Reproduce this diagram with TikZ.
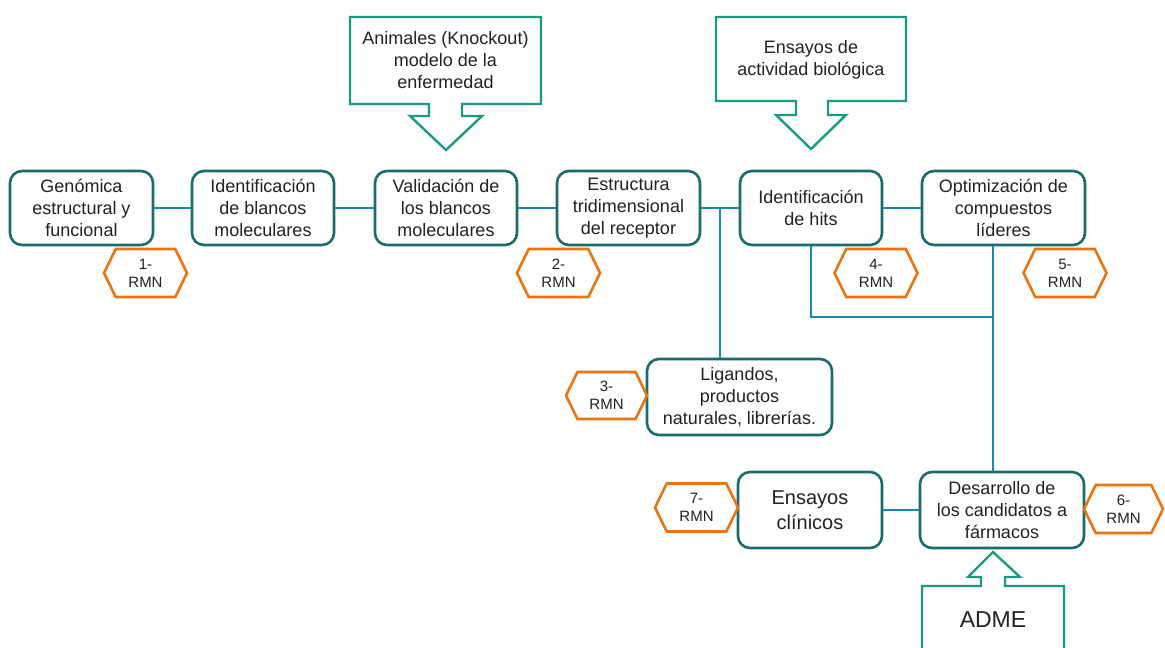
\documentclass[tikz,border=0pt]{standalone}
\usepackage{fontspec}
\setmainfont{Liberation Sans}
\usetikzlibrary{shapes.symbols}
\definecolor{boxc}{HTML}{1A6B6B}
\definecolor{linec}{HTML}{1A8AAA}
\definecolor{callc}{HTML}{1A9A80}
\definecolor{orc}{HTML}{E87511}
\definecolor{txtc}{HTML}{222222}
\tikzset{
  mainbox/.style={draw=boxc, line width=2.6pt, rounded corners=12pt, fill=white,
    minimum height=74pt, align=center, inner sep=2pt, text=txtc,
    font=\fontsize{18}{22}\selectfont},
  hexa/.style={draw=orc, line width=2.6pt, shape=signal, signal to=west and east,
    signal pointer angle=128, minimum width=83pt, minimum height=48pt, inner sep=1pt,
    align=center, text=txtc, font=\fontsize{15}{18}\selectfont},
  conn/.style={draw=linec, line width=2.4pt},
  callout/.style={draw=callc, line width=2.4pt, line join=miter},
  calltext/.style={align=center, text=txtc, font=\fontsize{18}{22}\selectfont}
}
\begin{document}
\begin{tikzpicture}[x=1pt, y=-1pt]
\useasboundingbox (0,0) rectangle (1165,648);
\clip (0,0) rectangle (1165,648);
\fill[white] (0,0) rectangle (1165,648);

% connectors (drawn first)
\coordinate (j1) at (720,208);
\coordinate (v) at (993,317);

% main boxes
\node[mainbox, minimum width=143pt] (b1) at (81.5,208) {Genómica\\estructural y\\funcional};
\node[mainbox, minimum width=142pt] (b2) at (263,208) {Identificación\\de blancos\\moleculares};
\node[mainbox, minimum width=142pt] (b3) at (446,208) {Validación de\\los blancos\\moleculares};
\node[mainbox, minimum width=143pt] (b4) at (628.5,208) {Estructura\\tridimensional\\del receptor};
\node[mainbox, minimum width=142pt] (b5) at (811,208) {Identificación\\de hits};
\node[mainbox, minimum width=163pt] (b6) at (1003.5,208) {Optimización de\\compuestos\\líderes};
\node[mainbox, minimum width=185pt, minimum height=76pt] (lig) at (739.5,397) {Ligandos,\\productos\\naturales, librerías.};
\node[mainbox, minimum width=144pt, minimum height=76pt, font=\fontsize{20}{25}\selectfont] (ens) at (810,510) {Ensayos\\clínicos};
\node[mainbox, minimum width=164pt, minimum height=76pt] (dev) at (1002,510) {Desarrollo de\\los candidatos a\\fármacos};

% connectors
\draw[conn] (b1.east) -- (b2.west);
\draw[conn] (b2.east) -- (b3.west);
\draw[conn] (b3.east) -- (b4.west);
\draw[conn] (b4.east) -- (b5.west);
\draw[conn] (b5.east) -- (b6.west);
\draw[conn] (j1) -- (j1 |- lig.north);
\draw[conn] (b5.south) -- (b5.south |- v) -- (v);
\draw[conn] (v |- b6.south) -- (v |- dev.north);
\draw[conn] (ens.east) -- (dev.west);

% hexagons
\node[hexa] (h1) at (145.5,273) {1-\\RMN};
\node[hexa] (h2) at (558.5,273) {2-\\RMN};
\node[hexa, minimum width=81pt, minimum height=47pt] (h3) at (606.5,395.5) {3-\\RMN};
\node[hexa] (h4) at (876,273) {4-\\RMN};
\node[hexa] (h5) at (1065,273) {5-\\RMN};
\node[hexa, minimum width=79pt] (h6) at (1123.5,509) {6-\\RMN};
\node[hexa] (h7) at (696.5,507.5) {7-\\RMN};

% callouts
\draw[callout] (350,17) -- (541,17) -- (541,104) -- (462,104) -- (462,116) -- (482,116)
  -- (446,150) -- (410,116) -- (429,116) -- (429,104) -- (350,104) -- cycle;
\node[calltext] (c1) at (445.5,60) {Animales (Knockout)\\modelo de la\\enfermedad};

\draw[callout] (716,17) -- (906,17) -- (906,101) -- (828,101) -- (828,115) -- (846,115)
  -- (811,149) -- (776,115) -- (796,115) -- (796,101) -- (716,101) -- cycle;
\node[calltext] (c2) at (811,60) {Ensayos de\\actividad biológica};

\draw[callout] (922,670) -- (922,586) -- (981,586) -- (981,577) -- (968,577) -- (993,552)
  -- (1020,577) -- (1005,577) -- (1005,586) -- (1064,586) -- (1064,670);
\node[calltext, font=\fontsize{23}{27}\selectfont] (c3) at (993,620) {ADME};
\end{tikzpicture}
\end{document}
